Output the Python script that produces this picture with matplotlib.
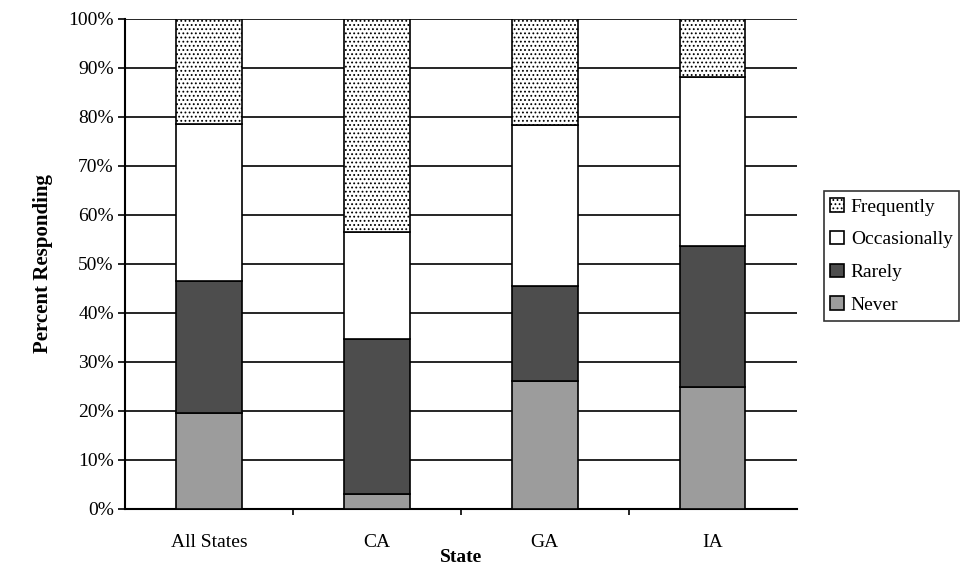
import matplotlib
matplotlib.use("Agg")
import matplotlib.pyplot as plt
import numpy as np

states = ["All States", "CA", "GA", "IA"]
never = [19.5, 3.1, 26.0, 24.8]
rarely = [26.9, 31.6, 19.4, 28.9]
occasionally = [32.2, 21.7, 33.0, 34.5]
frequently = [21.4, 43.6, 21.6, 11.8]

plt.rcParams["font.family"] = ["Liberation Serif", "DejaVu Serif"]
plt.rcParams["hatch.color"] = "#8a8a8a"
plt.rcParams["hatch.linewidth"] = 0.8

fig = plt.figure(figsize=(9.61, 5.71), dpi=100)
ax = fig.add_axes([0.130, 0.109, 0.699, 0.858])

x = np.arange(len(states))
w = 0.39
bottom = np.zeros(len(states))
segments = [
    ("Never", never, dict(facecolor="#9c9c9c")),
    ("Rarely", rarely, dict(facecolor="#4d4d4d")),
    ("Occasionally", occasionally, dict(facecolor="white")),
    ("Frequently", frequently, dict(facecolor="white", hatch="....")),
]
handles = {}
for name, vals, style in segments:
    bars = ax.bar(x, vals, w, bottom=bottom, edgecolor="black", linewidth=1.2,
                  label=name, zorder=3, **style)
    handles[name] = bars
    bottom += np.array(vals)

ax.set_xlim(-0.5, len(states) - 0.5)
ax.set_ylim(0, 100)
ax.set_yticks(np.arange(0, 101, 10))
ax.set_yticklabels([f"{v}%" for v in range(0, 101, 10)], fontsize=14)
ax.yaxis.grid(True, color="black", linewidth=1.2)
ax.set_axisbelow(True)

ax.set_xticks(x)
ax.set_xticklabels(states, fontsize=14)
ax.set_xticks(np.arange(0.5, len(states) - 1, 1), minor=True)
ax.tick_params(axis="x", which="major", length=0, pad=18)
ax.tick_params(axis="x", which="minor", length=4, width=1.2, direction="out")
ax.tick_params(axis="y", length=5, width=1.2, pad=3)

for s in ["top", "right"]:
    ax.spines[s].set_visible(False)
for s in ["left", "bottom"]:
    ax.spines[s].set_linewidth(1.5)

ax.set_xlabel("State", fontsize=14, fontweight="bold", labelpad=-1)
ax.set_ylabel("Percent Responding", fontsize=15, fontweight="bold", labelpad=11)

order = ["Frequently", "Occasionally", "Rarely", "Never"]
leg = fig.legend([handles[n] for n in order], order, loc="upper left",
                 bbox_to_anchor=(0.857, 0.665), fontsize=14, frameon=True,
                 fancybox=False, edgecolor="black", handlelength=0.7,
                 handleheight=0.7, handletextpad=0.35, borderpad=0.35,
                 labelspacing=0.78, borderaxespad=0)
leg.get_frame().set_linewidth(1.2)

fig.savefig("out.png", dpi=100)
plt.close(fig)
